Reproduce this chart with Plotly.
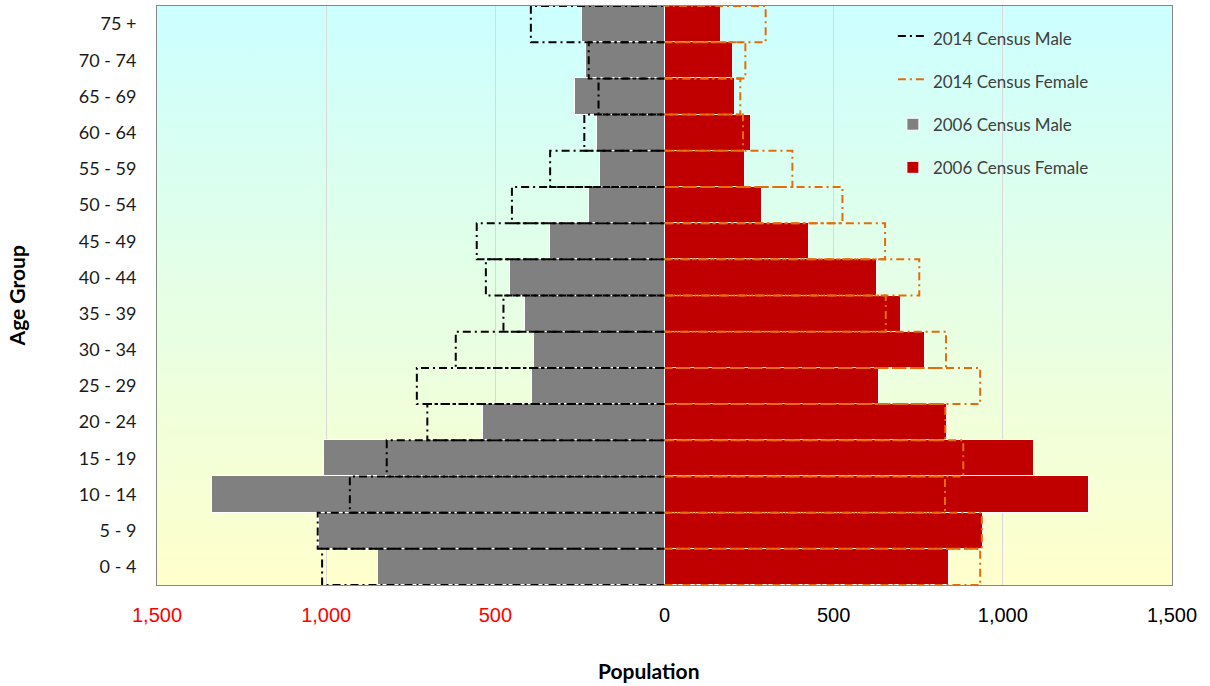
import base64
import plotly.graph_objects as go

age_groups = ["0 - 4", "5 - 9", "10 - 14", "15 - 19", "20 - 24", "25 - 29", "30 - 34",
              "35 - 39", "40 - 44", "45 - 49", "50 - 54", "55 - 59", "60 - 64",
              "65 - 69", "70 - 74", "75 +"]
male_2006 = [848, 1022, 1336, 1007, 536, 393, 385, 412, 457, 338, 222, 190, 200, 264, 232, 244]
female_2006 = [842, 940, 1254, 1091, 834, 633, 771, 700, 629, 427, 288, 239, 255, 207, 202, 168]
male_2014 = [1012, 1025, 930, 821, 701, 732, 617, 476, 528, 555, 451, 338, 237, 195, 224, 395]
female_2014 = [933, 938, 829, 883, 830, 933, 832, 654, 753, 652, 526, 378, 232, 224, 239, 299]
tick_vals = [-1500, -1000, -500, 0, 500, 1000, 1500]

pos = list(range(len(age_groups)))


def outline(values, sign):
    xs, ys = [], []
    for i, v in zip(pos, values):
        xs += [0, sign * v, sign * v, 0, None]
        ys += [i - 0.5, i - 0.5, i + 0.5, i + 0.5, None]
    return xs, ys


DASH = "8px,4px,2px,4px"

fig = go.Figure()
fig.add_trace(go.Bar(y=pos, x=[-v for v in male_2006], orientation="h", name="2006 Census Male",
                     marker=dict(color="#808080", line=dict(color="white", width=1)),
                     legendrank=3, legendgroup="c"))
fig.add_trace(go.Bar(y=pos, x=female_2006, orientation="h", name="2006 Census Female",
                     marker=dict(color="#C00000", line=dict(color="white", width=1)),
                     legendrank=4, legendgroup="d"))
mx, my = outline(male_2014, -1)
fig.add_trace(go.Scatter(x=mx, y=my, mode="lines", name="2014 Census Male", fill="toself",
                         fillcolor="rgba(0,0,0,0)", line=dict(color="black", width=2, dash=DASH),
                         legendrank=1, legendgroup="a"))
fx, fy = outline(female_2014, 1)
fig.add_trace(go.Scatter(x=fx, y=fy, mode="lines", name="2014 Census Female", fill="toself",
                         fillcolor="rgba(0,0,0,0)", line=dict(color="#E46C0A", width=2, dash=DASH),
                         legendrank=2, legendgroup="b"))

svg = ('<svg xmlns="http://www.w3.org/2000/svg" width="100" height="100" preserveAspectRatio="none">'
       '<defs><linearGradient id="g" x1="0" y1="0" x2="0" y2="1">'
       '<stop offset="0" stop-color="#CCFFFF"/><stop offset="1" stop-color="#FFFFCC"/>'
       '</linearGradient></defs><rect width="100" height="100" fill="url(#g)"/></svg>')
src = "data:image/svg+xml;base64," + base64.b64encode(svg.encode()).decode()

tick_text = []
for t in tick_vals:
    label = f"{abs(t):,}"
    if t < 0:
        label = f'<span style="color:#FF0000">{label}</span>'
    tick_text.append(label)

fig.update_layout(
    width=1210, height=686,
    margin=dict(l=157, r=38, t=6, b=101),
    paper_bgcolor="white",
    plot_bgcolor="rgba(0,0,0,0)",
    barmode="overlay",
    bargap=0,
    images=[dict(source=src, xref="paper", yref="paper", x=0, y=1, sizex=1, sizey=1,
                 sizing="stretch", layer="below", xanchor="left", yanchor="top")],
    font=dict(family="Lato, Open Sans, sans-serif", color="#000000"),
    legend=dict(x=0.725, y=0.975, xanchor="left", yanchor="top", bgcolor="rgba(0,0,0,0)",
                traceorder="grouped", tracegroupgap=18, itemwidth=30,
                font=dict(size=17, color="#404040", family="Lato, sans-serif")),
    xaxis=dict(range=[-1500, 1500], tickvals=tick_vals, ticktext=tick_text,
               showgrid=True, gridcolor="#D9D9D9", gridwidth=1,
               zeroline=True, zerolinecolor="#868686", zerolinewidth=1,
               showline=True, linecolor="#868686", linewidth=1, mirror=True,
               ticks="", ticklabelstandoff=12,
               tickfont=dict(size=20, family="Liberation Sans Narrow, Liberation Sans", color="#000000")),
    yaxis=dict(range=[-0.5, len(age_groups) - 0.5], tickvals=pos, ticktext=age_groups,
               showgrid=False, zeroline=False,
               showline=True, linecolor="#868686", linewidth=1, mirror=True,
               ticks="", ticklabelstandoff=16,
               tickfont=dict(size=18, family="Lato, sans-serif", color="#1a1a1a")),
    annotations=[
        dict(text="<b>Population</b>", xref="paper", yref="paper", x=0.485, y=-0.147,
             xanchor="center", yanchor="middle", showarrow=False,
             font=dict(size=21, family="Lato, sans-serif", color="#000000")),
        dict(text="<b>Age Group</b>", xref="paper", yref="paper", x=-0.138, y=0.5,
             xanchor="center", yanchor="middle", showarrow=False, textangle=-90,
             font=dict(size=21, family="Lato, sans-serif", color="#000000")),
    ],
)

fig.write_html("out.html", config={"displayModeBar": False},
               post_script="document.body.style.margin='0';")
